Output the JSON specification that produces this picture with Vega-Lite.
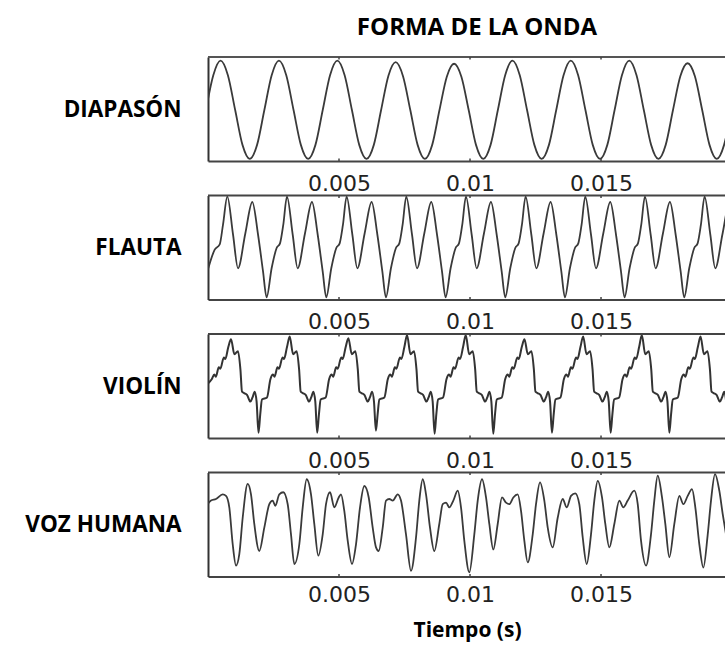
{
  "$schema": "https://vega.github.io/schema/vega-lite/v6.json",
  "padding": {"left": 24, "top": 16, "right": 0, "bottom": 5},
  "config": {
    "view": {"stroke": null},
    "axis": {"grid": false}
  },
  "datasets": {
    "marcas": [{"t": 5}, {"t": 10}, {"t": 15}],
    "diapason": [
      {"t": -0.077, "v": -0.02}, {"t": 0.202, "v": 0.65}, {"t": 0.48, "v": 0.93}, {"t": 0.759, "v": 0.65},
      {"t": 1.037, "v": -0.02}, {"t": 1.316, "v": -0.69}, {"t": 1.594, "v": -0.96}, {"t": 1.873, "v": -0.69},
      {"t": 2.151, "v": -0.02}, {"t": 2.43, "v": 0.65}, {"t": 2.708, "v": 0.93}, {"t": 2.987, "v": 0.65},
      {"t": 3.265, "v": -0.02}, {"t": 3.544, "v": -0.69}, {"t": 3.822, "v": -0.96}, {"t": 4.101, "v": -0.69},
      {"t": 4.379, "v": -0.02}, {"t": 4.658, "v": 0.65}, {"t": 4.936, "v": 0.93}, {"t": 5.215, "v": 0.65},
      {"t": 5.493, "v": -0.02}, {"t": 5.772, "v": -0.69}, {"t": 6.05, "v": -0.96}, {"t": 6.329, "v": -0.69},
      {"t": 6.607, "v": -0.02}, {"t": 6.886, "v": 0.64}, {"t": 7.164, "v": 0.9}, {"t": 7.443, "v": 0.63},
      {"t": 7.721, "v": -0.02}, {"t": 8.0, "v": -0.69}, {"t": 8.278, "v": -0.96}, {"t": 8.557, "v": -0.69},
      {"t": 8.835, "v": -0.02}, {"t": 9.114, "v": 0.62}, {"t": 9.392, "v": 0.87}, {"t": 9.671, "v": 0.62},
      {"t": 9.949, "v": -0.02}, {"t": 10.228, "v": -0.69}, {"t": 10.506, "v": -0.96}, {"t": 10.785, "v": -0.69},
      {"t": 11.063, "v": -0.02}, {"t": 11.342, "v": 0.65}, {"t": 11.62, "v": 0.93}, {"t": 11.899, "v": 0.65},
      {"t": 12.177, "v": -0.02}, {"t": 12.456, "v": -0.69}, {"t": 12.734, "v": -0.96}, {"t": 13.013, "v": -0.69},
      {"t": 13.291, "v": -0.02}, {"t": 13.57, "v": 0.65}, {"t": 13.848, "v": 0.93}, {"t": 14.127, "v": 0.65},
      {"t": 14.405, "v": -0.02}, {"t": 14.684, "v": -0.69}, {"t": 14.962, "v": -0.96}, {"t": 15.241, "v": -0.69},
      {"t": 15.519, "v": -0.02}, {"t": 15.798, "v": 0.65}, {"t": 16.076, "v": 0.93}, {"t": 16.355, "v": 0.65},
      {"t": 16.633, "v": -0.02}, {"t": 16.912, "v": -0.69}, {"t": 17.19, "v": -0.96}, {"t": 17.469, "v": -0.69},
      {"t": 17.747, "v": -0.02}, {"t": 18.026, "v": 0.63}, {"t": 18.304, "v": 0.88}, {"t": 18.583, "v": 0.63},
      {"t": 18.861, "v": -0.02}, {"t": 19.14, "v": -0.69}, {"t": 19.418, "v": -0.96}, {"t": 19.697, "v": -0.69},
      {"t": 19.975, "v": -0.02}
    ],
    "flauta": [
      {"t": 0, "v": -0.42}, {"t": 0.256, "v": -0.04}, {"t": 0.447, "v": 0.06}, {"t": 0.573, "v": 0.44},
      {"t": 0.737, "v": 0.98}, {"t": 0.955, "v": 0.25}, {"t": 1.145, "v": -0.4}, {"t": 1.424, "v": 0.27}, {"t": 1.691, "v": 0.875}, {"t": 1.909, "v": 0.25}, {"t": 2.1, "v": -0.46}, {"t": 2.237, "v": -0.96}, {"t": 2.428, "v": -0.4}, {"t": 2.619, "v": -0.01}, {"t": 2.748, "v": 0.08}, {"t": 2.874, "v": 0.44},
      {"t": 3.014, "v": 0.98}, {"t": 3.232, "v": 0.25}, {"t": 3.422, "v": -0.4}, {"t": 3.701, "v": 0.27}, {"t": 3.968, "v": 0.875}, {"t": 4.186, "v": 0.25}, {"t": 4.377, "v": -0.46}, {"t": 4.514, "v": -0.96}, {"t": 4.705, "v": -0.4}, {"t": 4.896, "v": -0.01}, {"t": 5.025, "v": 0.08}, {"t": 5.151, "v": 0.44},
      {"t": 5.291, "v": 0.98}, {"t": 5.509, "v": 0.25}, {"t": 5.699, "v": -0.4}, {"t": 5.978, "v": 0.27}, {"t": 6.245, "v": 0.875}, {"t": 6.463, "v": 0.25}, {"t": 6.654, "v": -0.46}, {"t": 6.791, "v": -0.96}, {"t": 6.982, "v": -0.4}, {"t": 7.173, "v": -0.01}, {"t": 7.302, "v": 0.08}, {"t": 7.428, "v": 0.44},
      {"t": 7.568, "v": 0.98}, {"t": 7.786, "v": 0.25}, {"t": 7.976, "v": -0.4}, {"t": 8.255, "v": 0.27}, {"t": 8.522, "v": 0.875}, {"t": 8.74, "v": 0.25}, {"t": 8.931, "v": -0.46}, {"t": 9.068, "v": -0.96}, {"t": 9.259, "v": -0.4}, {"t": 9.45, "v": -0.01}, {"t": 9.579, "v": 0.08}, {"t": 9.705, "v": 0.44},
      {"t": 9.845, "v": 0.98}, {"t": 10.063, "v": 0.25}, {"t": 10.253, "v": -0.4}, {"t": 10.532, "v": 0.27}, {"t": 10.799, "v": 0.875}, {"t": 11.017, "v": 0.25}, {"t": 11.208, "v": -0.46}, {"t": 11.345, "v": -0.96}, {"t": 11.536, "v": -0.4}, {"t": 11.727, "v": -0.01}, {"t": 11.856, "v": 0.08}, {"t": 11.982, "v": 0.44},
      {"t": 12.122, "v": 0.98}, {"t": 12.34, "v": 0.25}, {"t": 12.53, "v": -0.4}, {"t": 12.809, "v": 0.27}, {"t": 13.076, "v": 0.875}, {"t": 13.294, "v": 0.25}, {"t": 13.485, "v": -0.46}, {"t": 13.622, "v": -0.96}, {"t": 13.813, "v": -0.4}, {"t": 14.004, "v": -0.01}, {"t": 14.133, "v": 0.08}, {"t": 14.259, "v": 0.44},
      {"t": 14.399, "v": 0.98}, {"t": 14.617, "v": 0.25}, {"t": 14.807, "v": -0.4}, {"t": 15.086, "v": 0.27}, {"t": 15.353, "v": 0.875}, {"t": 15.571, "v": 0.25}, {"t": 15.762, "v": -0.46}, {"t": 15.899, "v": -0.96}, {"t": 16.09, "v": -0.4}, {"t": 16.281, "v": -0.01}, {"t": 16.41, "v": 0.08}, {"t": 16.536, "v": 0.44},
      {"t": 16.676, "v": 0.98}, {"t": 16.894, "v": 0.25}, {"t": 17.084, "v": -0.4}, {"t": 17.363, "v": 0.27}, {"t": 17.63, "v": 0.875}, {"t": 17.848, "v": 0.25}, {"t": 18.039, "v": -0.46}, {"t": 18.176, "v": -0.96}, {"t": 18.367, "v": -0.4}, {"t": 18.558, "v": -0.01}, {"t": 18.687, "v": 0.08}, {"t": 18.813, "v": 0.44},
      {"t": 18.953, "v": 0.98}, {"t": 19.171, "v": 0.25}, {"t": 19.361, "v": -0.4}, {"t": 19.64, "v": 0.27}, {"t": 19.907, "v": 0.875}, {"t": 20.125, "v": 0.25}
    ],
    "violin": [
      {"t": 0, "v": 0.05}, {"t": 0.142, "v": 0.13}, {"t": 0.241, "v": 0.22}, {"t": 0.298, "v": 0.18}, {"t": 0.413, "v": 0.36}, {"t": 0.47, "v": 0.33}, {"t": 0.604, "v": 0.55}, {"t": 0.661, "v": 0.52}, {"t": 0.775, "v": 0.75},
      {"t": 0.878, "v": 0.9}, {"t": 1.008, "v": 0.61}, {"t": 1.145, "v": 0.67}, {"t": 1.237, "v": 0.32}, {"t": 1.298, "v": -0.11}, {"t": 1.393, "v": -0.14}, {"t": 1.489, "v": -0.17}, {"t": 1.618, "v": -0.3}, {"t": 1.699, "v": -0.22}, {"t": 1.783, "v": -0.11}, {"t": 1.855, "v": -0.3}, {"t": 1.928, "v": -0.9}, {"t": 1.993, "v": -0.55}, {"t": 2.061, "v": -0.26}, {"t": 2.252, "v": -0.22}, {"t": 2.382, "v": 0.13}, {"t": 2.481, "v": 0.22}, {"t": 2.538, "v": 0.18}, {"t": 2.653, "v": 0.36}, {"t": 2.71, "v": 0.33}, {"t": 2.844, "v": 0.55}, {"t": 2.901, "v": 0.52}, {"t": 3.015, "v": 0.75},
      {"t": 3.118, "v": 0.95}, {"t": 3.248, "v": 0.61}, {"t": 3.385, "v": 0.67}, {"t": 3.477, "v": 0.32}, {"t": 3.538, "v": -0.11}, {"t": 3.633, "v": -0.14}, {"t": 3.729, "v": -0.17}, {"t": 3.858, "v": -0.3}, {"t": 3.939, "v": -0.22}, {"t": 4.023, "v": -0.11}, {"t": 4.095, "v": -0.3}, {"t": 4.168, "v": -0.9}, {"t": 4.233, "v": -0.55}, {"t": 4.301, "v": -0.26}, {"t": 4.492, "v": -0.22}, {"t": 4.622, "v": 0.13}, {"t": 4.721, "v": 0.22}, {"t": 4.778, "v": 0.18}, {"t": 4.893, "v": 0.36}, {"t": 4.95, "v": 0.33}, {"t": 5.084, "v": 0.55}, {"t": 5.141, "v": 0.52}, {"t": 5.255, "v": 0.75},
      {"t": 5.358, "v": 0.92}, {"t": 5.488, "v": 0.61}, {"t": 5.625, "v": 0.67}, {"t": 5.717, "v": 0.32}, {"t": 5.778, "v": -0.11}, {"t": 5.873, "v": -0.14}, {"t": 5.969, "v": -0.17}, {"t": 6.098, "v": -0.3}, {"t": 6.179, "v": -0.22}, {"t": 6.263, "v": -0.11}, {"t": 6.335, "v": -0.3}, {"t": 6.408, "v": -0.86}, {"t": 6.473, "v": -0.55}, {"t": 6.541, "v": -0.26}, {"t": 6.732, "v": -0.22}, {"t": 6.862, "v": 0.13}, {"t": 6.961, "v": 0.22}, {"t": 7.018, "v": 0.18}, {"t": 7.133, "v": 0.36}, {"t": 7.19, "v": 0.33}, {"t": 7.324, "v": 0.55}, {"t": 7.381, "v": 0.52}, {"t": 7.495, "v": 0.75},
      {"t": 7.598, "v": 0.98}, {"t": 7.728, "v": 0.61}, {"t": 7.865, "v": 0.67}, {"t": 7.957, "v": 0.32}, {"t": 8.018, "v": -0.11}, {"t": 8.113, "v": -0.14}, {"t": 8.209, "v": -0.17}, {"t": 8.338, "v": -0.3}, {"t": 8.419, "v": -0.22}, {"t": 8.503, "v": -0.11}, {"t": 8.575, "v": -0.3}, {"t": 8.648, "v": -0.92}, {"t": 8.713, "v": -0.55}, {"t": 8.781, "v": -0.26}, {"t": 8.972, "v": -0.22}, {"t": 9.102, "v": 0.13}, {"t": 9.201, "v": 0.22}, {"t": 9.258, "v": 0.18}, {"t": 9.373, "v": 0.36}, {"t": 9.43, "v": 0.33}, {"t": 9.564, "v": 0.55}, {"t": 9.621, "v": 0.52}, {"t": 9.735, "v": 0.75},
      {"t": 9.838, "v": 0.98}, {"t": 9.968, "v": 0.61}, {"t": 10.105, "v": 0.67}, {"t": 10.197, "v": 0.32}, {"t": 10.258, "v": -0.11}, {"t": 10.353, "v": -0.14}, {"t": 10.449, "v": -0.17}, {"t": 10.578, "v": -0.3}, {"t": 10.659, "v": -0.22}, {"t": 10.743, "v": -0.11}, {"t": 10.815, "v": -0.3}, {"t": 10.888, "v": -0.92}, {"t": 10.953, "v": -0.55}, {"t": 11.021, "v": -0.26}, {"t": 11.212, "v": -0.22}, {"t": 11.342, "v": 0.13}, {"t": 11.441, "v": 0.22}, {"t": 11.498, "v": 0.18}, {"t": 11.613, "v": 0.36}, {"t": 11.67, "v": 0.33}, {"t": 11.804, "v": 0.55}, {"t": 11.861, "v": 0.52}, {"t": 11.975, "v": 0.75},
      {"t": 12.078, "v": 0.9}, {"t": 12.208, "v": 0.61}, {"t": 12.345, "v": 0.67}, {"t": 12.437, "v": 0.32}, {"t": 12.498, "v": -0.11}, {"t": 12.593, "v": -0.14}, {"t": 12.689, "v": -0.17}, {"t": 12.818, "v": -0.3}, {"t": 12.899, "v": -0.22}, {"t": 12.983, "v": -0.11}, {"t": 13.055, "v": -0.3}, {"t": 13.128, "v": -0.9}, {"t": 13.193, "v": -0.55}, {"t": 13.261, "v": -0.26}, {"t": 13.452, "v": -0.22}, {"t": 13.582, "v": 0.13}, {"t": 13.681, "v": 0.22}, {"t": 13.738, "v": 0.18}, {"t": 13.853, "v": 0.36}, {"t": 13.91, "v": 0.33}, {"t": 14.044, "v": 0.55}, {"t": 14.101, "v": 0.52}, {"t": 14.215, "v": 0.75},
      {"t": 14.318, "v": 0.95}, {"t": 14.448, "v": 0.61}, {"t": 14.585, "v": 0.67}, {"t": 14.677, "v": 0.32}, {"t": 14.738, "v": -0.11}, {"t": 14.833, "v": -0.14}, {"t": 14.929, "v": -0.17}, {"t": 15.058, "v": -0.3}, {"t": 15.139, "v": -0.22}, {"t": 15.223, "v": -0.11}, {"t": 15.295, "v": -0.3}, {"t": 15.368, "v": -0.9}, {"t": 15.433, "v": -0.55}, {"t": 15.501, "v": -0.26}, {"t": 15.692, "v": -0.22}, {"t": 15.822, "v": 0.13}, {"t": 15.921, "v": 0.22}, {"t": 15.978, "v": 0.18}, {"t": 16.093, "v": 0.36}, {"t": 16.15, "v": 0.33}, {"t": 16.284, "v": 0.55}, {"t": 16.341, "v": 0.52}, {"t": 16.455, "v": 0.75},
      {"t": 16.558, "v": 0.98}, {"t": 16.688, "v": 0.61}, {"t": 16.825, "v": 0.67}, {"t": 16.917, "v": 0.32}, {"t": 16.978, "v": -0.11}, {"t": 17.073, "v": -0.14}, {"t": 17.169, "v": -0.17}, {"t": 17.298, "v": -0.3}, {"t": 17.379, "v": -0.22}, {"t": 17.463, "v": -0.11}, {"t": 17.535, "v": -0.3}, {"t": 17.608, "v": -0.9}, {"t": 17.673, "v": -0.55}, {"t": 17.741, "v": -0.26}, {"t": 17.932, "v": -0.22}, {"t": 18.062, "v": 0.13}, {"t": 18.161, "v": 0.22}, {"t": 18.218, "v": 0.18}, {"t": 18.333, "v": 0.36}, {"t": 18.39, "v": 0.33}, {"t": 18.524, "v": 0.55}, {"t": 18.581, "v": 0.52}, {"t": 18.695, "v": 0.75},
      {"t": 18.798, "v": 0.95}, {"t": 18.928, "v": 0.61}, {"t": 19.065, "v": 0.67}, {"t": 19.157, "v": 0.32}, {"t": 19.218, "v": -0.11}, {"t": 19.313, "v": -0.14}, {"t": 19.409, "v": -0.17}, {"t": 19.538, "v": -0.3}, {"t": 19.619, "v": -0.22}, {"t": 19.703, "v": -0.11}, {"t": 19.775, "v": -0.3}, {"t": 19.848, "v": -0.9}
    ],
    "voz": [
      {"t": 0, "v": 0.4}, {"t": 0.115, "v": 0.46}, {"t": 0.305, "v": 0.49}, {"t": 0.561, "v": 0.58}, {"t": 0.687, "v": 0.55}, {"t": 0.813, "v": 0.33}, {"t": 0.943, "v": -0.38}, {"t": 1.069, "v": -0.79}, {"t": 1.195, "v": -0.57}, {"t": 1.324, "v": 0.13},
      {"t": 1.515, "v": 0.78}, {"t": 1.641, "v": 0.58}, {"t": 1.767, "v": 0.01}, {"t": 1.958, "v": -0.51}, {"t": 2.149, "v": -0.06}, {"t": 2.34, "v": 0.39}, {"t": 2.469, "v": 0.46}, {"t": 2.569, "v": 0.36}, {"t": 2.721, "v": 0.58}, {"t": 2.874, "v": 0.62},
      {"t": 3.042, "v": 0.39}, {"t": 3.168, "v": -0.19}, {"t": 3.294, "v": -0.76}, {"t": 3.485, "v": -0.38}, {"t": 3.615, "v": 0.33}, {"t": 3.767, "v": 0.87}, {"t": 3.931, "v": 0.58}, {"t": 4.057, "v": 0.01}, {"t": 4.21, "v": -0.6}, {"t": 4.378, "v": -0.19},
      {"t": 4.504, "v": 0.39}, {"t": 4.656, "v": 0.62}, {"t": 4.821, "v": 0.33}, {"t": 4.989, "v": 0.52}, {"t": 5.076, "v": 0.58}, {"t": 5.202, "v": 0.26}, {"t": 5.332, "v": -0.31}, {"t": 5.496, "v": -0.76}, {"t": 5.649, "v": -0.38}, {"t": 5.802, "v": 0.33},
      {"t": 5.966, "v": 0.74}, {"t": 6.134, "v": 0.52}, {"t": 6.286, "v": -0.06}, {"t": 6.412, "v": -0.44}, {"t": 6.515, "v": -0.51}, {"t": 6.668, "v": -0.06}, {"t": 6.794, "v": 0.46}, {"t": 6.92, "v": 0.49}, {"t": 7.05, "v": 0.46}, {"t": 7.24, "v": 0.58},
      {"t": 7.366, "v": 0.46}, {"t": 7.557, "v": -0.19}, {"t": 7.748, "v": -0.89}, {"t": 7.939, "v": -0.25}, {"t": 8.065, "v": 0.46}, {"t": 8.195, "v": 0.87}, {"t": 8.321, "v": 0.58}, {"t": 8.473, "v": -0.06}, {"t": 8.637, "v": -0.51}, {"t": 8.828, "v": 0.01},
      {"t": 8.958, "v": 0.39}, {"t": 9.084, "v": 0.42}, {"t": 9.21, "v": 0.33}, {"t": 9.363, "v": 0.46}, {"t": 9.531, "v": 0.65}, {"t": 9.656, "v": 0.33}, {"t": 9.782, "v": -0.31}, {"t": 9.973, "v": -0.92}, {"t": 10.164, "v": -0.19}, {"t": 10.294, "v": 0.46},
      {"t": 10.458, "v": 0.87}, {"t": 10.611, "v": 0.52}, {"t": 10.737, "v": 0.01}, {"t": 10.889, "v": -0.48}, {"t": 11.057, "v": 0.01}, {"t": 11.221, "v": 0.52}, {"t": 11.374, "v": 0.42}, {"t": 11.5, "v": 0.39}, {"t": 11.653, "v": 0.52}, {"t": 11.821, "v": 0.58},
      {"t": 11.947, "v": 0.26}, {"t": 12.073, "v": -0.31}, {"t": 12.202, "v": -0.73}, {"t": 12.393, "v": -0.19}, {"t": 12.519, "v": 0.39}, {"t": 12.672, "v": 0.81}, {"t": 12.836, "v": 0.46}, {"t": 12.966, "v": -0.06}, {"t": 13.156, "v": -0.44}, {"t": 13.347, "v": 0.13},
      {"t": 13.538, "v": 0.49}, {"t": 13.691, "v": 0.33}, {"t": 13.855, "v": 0.55}, {"t": 14.019, "v": 0.6}, {"t": 14.172, "v": 0.39}, {"t": 14.302, "v": -0.25}, {"t": 14.454, "v": -0.76}, {"t": 14.618, "v": -0.19}, {"t": 14.744, "v": 0.46}, {"t": 14.874, "v": 0.84},
      {"t": 15.038, "v": 0.52}, {"t": 15.164, "v": 0.01}, {"t": 15.317, "v": -0.44}, {"t": 15.508, "v": 0.01}, {"t": 15.698, "v": 0.46}, {"t": 15.851, "v": 0.33}, {"t": 16.019, "v": 0.46}, {"t": 16.271, "v": 0.65}, {"t": 16.401, "v": 0.39}, {"t": 16.527, "v": -0.31},
      {"t": 16.718, "v": -0.79}, {"t": 16.908, "v": -0.19}, {"t": 17.034, "v": 0.46}, {"t": 17.164, "v": 0.94}, {"t": 17.328, "v": 0.52}, {"t": 17.454, "v": 0.01}, {"t": 17.607, "v": -0.63}, {"t": 17.798, "v": 0.01}, {"t": 17.989, "v": 0.55}, {"t": 18.141, "v": 0.39},
      {"t": 18.309, "v": 0.55}, {"t": 18.473, "v": 0.68}, {"t": 18.599, "v": 0.33}, {"t": 18.752, "v": -0.38}, {"t": 18.905, "v": -0.83}, {"t": 19.073, "v": -0.19}, {"t": 19.198, "v": 0.46}, {"t": 19.351, "v": 0.97}, {"t": 19.515, "v": 0.65}, {"t": 19.645, "v": 0.2},
      {"t": 19.771, "v": -0.19}
    ]
  },
  "vconcat": [
    {
      "title": {"text": "FORMA DE LA ONDA", "font": "Open Sans", "fontSize": 24, "fontWeight": "bold", "color": "#000", "anchor": "middle", "frame": "group", "offset": 16, "dx": 10},
      "width": 518, "height": 104,
      "layer": [
        {
          "data": {"name": "diapason"},
          "mark": {"type": "line", "interpolate": "monotone", "clip": true, "color": "#3a3a3a", "strokeWidth": 1.8},
          "encoding": {
            "x": {"field": "t", "type": "quantitative", "scale": {"domain": [0, 19.77], "nice": false, "zero": false},
                  "axis": {"values": [5, 10, 15], "labelExpr": "'' + datum.value / 1000", "ticks": false, "domain": true, "domainColor": "#444", "domainWidth": 2, "labelFont": "DejaVu Sans", "labelFontSize": 22, "labelColor": "#222", "labelPadding": 12, "title": null}},
            "y": {"field": "v", "type": "quantitative", "scale": {"domain": [-1, 1], "nice": false, "zero": false},
                  "axis": {"labels": false, "ticks": false, "domain": true, "domainColor": "#333", "domainWidth": 2, "title": "DIAPASÓN", "titleAngle": 0, "titleAlign": "right", "titleBaseline": "middle", "titleX": -27, "titleY": 52, "titleFont": "Open Sans", "titleFontSize": 22.5, "titleFontWeight": "bold", "titleColor": "#000"}}
          }
        },
        {"data": {"values": [{}]}, "mark": {"type": "rule", "color": "#555", "strokeWidth": 2}, "encoding": {"y": {"datum": 1}}},
        {"data": {"name": "marcas"}, "mark": {"type": "rule", "color": "#444", "strokeWidth": 1.5},
         "encoding": {"x": {"field": "t", "type": "quantitative"}, "y": {"datum": 1}, "y2": {"datum": 0.95}}},
        {"data": {"name": "marcas"}, "mark": {"type": "rule", "color": "#444", "strokeWidth": 1.5},
         "encoding": {"x": {"field": "t", "type": "quantitative"}, "y": {"datum": -1}, "y2": {"datum": -0.95}}}
      ]
    },
    {
      "width": 518, "height": 104,
      "layer": [
        {
          "data": {"name": "flauta"},
          "mark": {"type": "line", "interpolate": "monotone", "clip": true, "color": "#3a3a3a", "strokeWidth": 1.8},
          "encoding": {
            "x": {"field": "t", "type": "quantitative", "scale": {"domain": [0, 19.77], "nice": false, "zero": false},
                  "axis": {"values": [5, 10, 15], "labelExpr": "'' + datum.value / 1000", "ticks": false, "domain": true, "domainColor": "#444", "domainWidth": 2, "labelFont": "DejaVu Sans", "labelFontSize": 22, "labelColor": "#222", "labelPadding": 12, "title": null}},
            "y": {"field": "v", "type": "quantitative", "scale": {"domain": [-1, 1], "nice": false, "zero": false},
                  "axis": {"labels": false, "ticks": false, "domain": true, "domainColor": "#333", "domainWidth": 2, "title": "FLAUTA", "titleAngle": 0, "titleAlign": "right", "titleBaseline": "middle", "titleX": -27, "titleY": 52, "titleFont": "Open Sans", "titleFontSize": 22.5, "titleFontWeight": "bold", "titleColor": "#000"}}
          }
        },
        {"data": {"values": [{}]}, "mark": {"type": "rule", "color": "#444", "strokeWidth": 2}, "encoding": {"y": {"datum": 1}}},
        {"data": {"name": "marcas"}, "mark": {"type": "rule", "color": "#444", "strokeWidth": 1.5},
         "encoding": {"x": {"field": "t", "type": "quantitative"}, "y": {"datum": 1}, "y2": {"datum": 0.95}}},
        {"data": {"name": "marcas"}, "mark": {"type": "rule", "color": "#444", "strokeWidth": 1.5},
         "encoding": {"x": {"field": "t", "type": "quantitative"}, "y": {"datum": -1}, "y2": {"datum": -0.95}}}
      ]
    },
    {
      "width": 518, "height": 104,
      "layer": [
        {
          "data": {"name": "violin"},
          "mark": {"type": "line", "interpolate": "monotone", "clip": true, "color": "#333", "strokeWidth": 2},
          "encoding": {
            "x": {"field": "t", "type": "quantitative", "scale": {"domain": [0, 19.77], "nice": false, "zero": false},
                  "axis": {"values": [5, 10, 15], "labelExpr": "'' + datum.value / 1000", "ticks": false, "domain": true, "domainColor": "#444", "domainWidth": 2, "labelFont": "DejaVu Sans", "labelFontSize": 22, "labelColor": "#222", "labelPadding": 12, "title": null}},
            "y": {"field": "v", "type": "quantitative", "scale": {"domain": [-1, 1], "nice": false, "zero": false},
                  "axis": {"labels": false, "ticks": false, "domain": true, "domainColor": "#333", "domainWidth": 2, "title": "VIOLÍN", "titleAngle": 0, "titleAlign": "right", "titleBaseline": "middle", "titleX": -27, "titleY": 52, "titleFont": "Open Sans", "titleFontSize": 22.5, "titleFontWeight": "bold", "titleColor": "#000"}}
          }
        },
        {"data": {"values": [{}]}, "mark": {"type": "rule", "color": "#444", "strokeWidth": 2}, "encoding": {"y": {"datum": 1}}},
        {"data": {"name": "marcas"}, "mark": {"type": "rule", "color": "#444", "strokeWidth": 1.5},
         "encoding": {"x": {"field": "t", "type": "quantitative"}, "y": {"datum": 1}, "y2": {"datum": 0.95}}},
        {"data": {"name": "marcas"}, "mark": {"type": "rule", "color": "#444", "strokeWidth": 1.5},
         "encoding": {"x": {"field": "t", "type": "quantitative"}, "y": {"datum": -1}, "y2": {"datum": -0.95}}}
      ]
    },
    {
      "width": 518, "height": 104,
      "layer": [
        {
          "data": {"name": "voz"},
          "mark": {"type": "line", "interpolate": "monotone", "clip": true, "color": "#3a3a3a", "strokeWidth": 1.8},
          "encoding": {
            "x": {"field": "t", "type": "quantitative", "scale": {"domain": [0, 19.77], "nice": false, "zero": false},
                  "axis": {"values": [5, 10, 15], "labelExpr": "'' + datum.value / 1000", "ticks": false, "domain": true, "domainColor": "#444", "domainWidth": 2, "labelFont": "DejaVu Sans", "labelFontSize": 22, "labelColor": "#222", "labelPadding": 8, "title": "Tiempo (s)", "titleFont": "Open Sans", "titleFontSize": 21, "titleFontWeight": "bold", "titleColor": "#000", "titlePadding": 14}},
            "y": {"field": "v", "type": "quantitative", "scale": {"domain": [-1, 1], "nice": false, "zero": false},
                  "axis": {"labels": false, "ticks": false, "domain": true, "domainColor": "#333", "domainWidth": 2, "title": "VOZ HUMANA", "titleAngle": 0, "titleAlign": "right", "titleBaseline": "middle", "titleX": -27, "titleY": 52, "titleFont": "Open Sans", "titleFontSize": 22.5, "titleFontWeight": "bold", "titleColor": "#000"}}
          }
        },
        {"data": {"values": [{}]}, "mark": {"type": "rule", "color": "#444", "strokeWidth": 2}, "encoding": {"y": {"datum": 1}}},
        {"data": {"name": "marcas"}, "mark": {"type": "rule", "color": "#444", "strokeWidth": 1.5},
         "encoding": {"x": {"field": "t", "type": "quantitative"}, "y": {"datum": 1}, "y2": {"datum": 0.95}}},
        {"data": {"name": "marcas"}, "mark": {"type": "rule", "color": "#444", "strokeWidth": 1.5},
         "encoding": {"x": {"field": "t", "type": "quantitative"}, "y": {"datum": -1}, "y2": {"datum": -0.95}}}
      ]
    }
  ],
  "spacing": 34.5,
  "bounds": "flush"
}
